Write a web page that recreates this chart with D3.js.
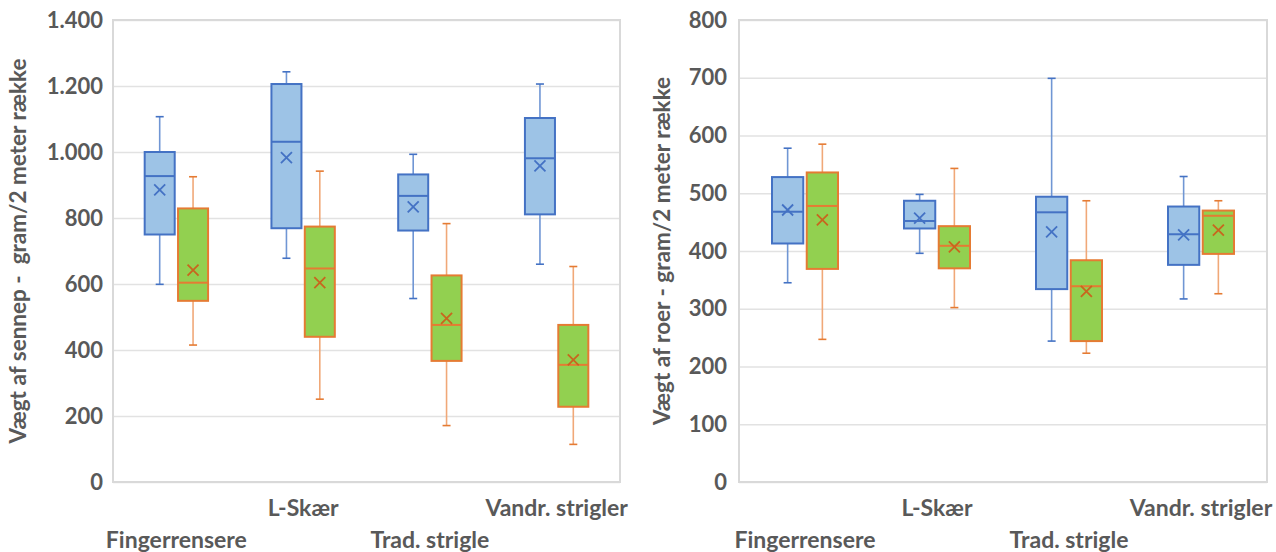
<!DOCTYPE html>
<html>
<head>
<meta charset="utf-8">
<script src="https://cdn.jsdelivr.net/npm/d3@7"></script>
<style>
  body { margin: 0; background: #fff; }
  text { font-family: Lato, "Open Sans", sans-serif; font-weight: bold; fill: #595959; }
</style>
</head>
<body>
<svg id="chart" width="1276" height="552"></svg>
<script>
var categories = ["Fingerrensere", "L-Skær", "Trad. strigle", "Vandr. strigler"];
var seriesNames = ["blaa", "groen"];

// each row: [min, q1, median, q3, max, mean]
var sennepBlaa = [[599, 750, 927, 1000, 1107, 885], [678, 769, 1031, 1206, 1243, 983], [556, 762, 867, 932, 993, 834], [660, 811, 981, 1103, 1206, 958]];
var sennepGroen = [[415, 549, 604, 829, 925, 642], [251, 440, 647, 774, 942, 604], [171, 367, 476, 626, 783, 496], [114, 228, 355, 476, 653, 370]];
var roerBlaa = [[345, 413, 468, 528, 578, 471], [396, 439, 452, 487, 498, 457], [244, 334, 467, 494, 699, 433], [317, 376, 429, 477, 529, 428]];
var roerGroen = [[247, 369, 478, 536, 585, 454], [302, 370, 409, 443, 543, 407], [223, 244, 339, 384, 487, 330], [326, 395, 461, 470, 487, 436]];

var sennepTicks = [0, 200, 400, 600, 800, 1000, 1200, 1400];
var roerTicks = [0, 100, 200, 300, 400, 500, 600, 700, 800];

var colors = {
    blaa: { fill: "#9dc3e6", stroke: "#4472c4", whisker: "#7096d4", mean: "#4472c4" },
    groen: { fill: "#92d050", stroke: "#e57b33", whisker: "#f0a878", mean: "#c8661e" }
};

var dk = d3.formatLocale({ decimal: ",", thousands: ".", grouping: [3], currency: ["", " kr."] });
var fmt = dk.format(",d");

var svg = d3.select("#chart");

function drawChart(o) {
    var g = svg.append("g");
    var y = d3.scaleLinear().domain([0, o.max]).range([o.bottom, o.top]);
    var x0 = d3.scaleBand().domain(categories).range([o.left, o.right]);
    var bw = x0.bandwidth();
    var groupW = bw * 0.5;
    var x1 = d3.scaleBand().domain(seriesNames).range([(bw - groupW) / 2, (bw + groupW) / 2]).paddingInner(0.1);

    // gridlines + tick labels
    var ya = g.append("g")
        .attr("transform", "translate(" + o.left + ",0)")
        .call(d3.axisLeft(y).tickValues(o.ticks).tickFormat(fmt).tickSize(-(o.right - o.left)).tickPadding(o.pad));
    ya.select(".domain").remove();
    ya.selectAll(".tick line").attr("stroke", "#e2e2e2").attr("stroke-width", 1.5);
    ya.selectAll(".tick text").style("font-size", "22px").attr("fill", "#595959");

    // frame
    g.append("rect")
        .attr("x", o.left).attr("y", o.top)
        .attr("width", o.right - o.left).attr("height", o.bottom - o.top)
        .attr("fill", "none").attr("stroke", "#d9d9d9").attr("stroke-width", 2);

    // x labels, staggered on two rows
    var xa = g.append("g")
        .attr("transform", "translate(0," + o.bottom + ")")
        .call(d3.axisBottom(x0).tickSize(0));
    xa.select(".domain").remove();
    xa.selectAll(".tick text")
        .style("font-size", "23px")
        .attr("fill", "#595959")
        .attr("dy", 0)
        .attr("y", function (d, i) { return i % 2 == 0 ? 66 : 34; });

    // boxes
    o.data.forEach(function (rows, si) {
        var s = seriesNames[si];
        var c = colors[s];
        var sg = g.append("g");
        var box = sg.selectAll("g.box").data(rows).enter().append("g")
            .attr("class", "box")
            .attr("transform", function (d, i) { return "translate(" + (x0(categories[i]) + x1(s)) + ",0)"; });
        var w = x1.bandwidth();
        var cx = w / 2;

        // whiskers
        box.append("line").attr("x1", cx).attr("x2", cx)
            .attr("y1", function (d) { return y(d[0]); }).attr("y2", function (d) { return y(d[1]); })
            .attr("stroke", c.whisker).attr("stroke-width", 1.6);
        box.append("line").attr("x1", cx).attr("x2", cx)
            .attr("y1", function (d) { return y(d[3]); }).attr("y2", function (d) { return y(d[4]); })
            .attr("stroke", c.whisker).attr("stroke-width", 1.6);
        box.append("line").attr("x1", cx - 4).attr("x2", cx + 4)
            .attr("y1", function (d) { return y(d[0]); }).attr("y2", function (d) { return y(d[0]); })
            .attr("stroke", c.stroke).attr("stroke-width", 1.6);
        box.append("line").attr("x1", cx - 4).attr("x2", cx + 4)
            .attr("y1", function (d) { return y(d[4]); }).attr("y2", function (d) { return y(d[4]); })
            .attr("stroke", c.stroke).attr("stroke-width", 1.6);

        // box
        box.append("rect")
            .attr("x", 0).attr("width", w)
            .attr("y", function (d) { return y(d[3]); })
            .attr("height", function (d) { return y(d[1]) - y(d[3]); })
            .attr("fill", c.fill).attr("stroke", c.stroke).attr("stroke-width", 2);

        // median
        box.append("line").attr("x1", 0).attr("x2", w)
            .attr("y1", function (d) { return y(d[2]); }).attr("y2", function (d) { return y(d[2]); })
            .attr("stroke", c.stroke).attr("stroke-width", 2);

        // mean marker (x)
        box.append("path")
            .attr("d", function (d) {
                var my = y(d[5]), r = 5.5;
                return "M" + (cx - r) + "," + (my - r) + "L" + (cx + r) + "," + (my + r) +
                    "M" + (cx - r) + "," + (my + r) + "L" + (cx + r) + "," + (my - r);
            })
            .attr("stroke", c.mean).attr("stroke-width", 1.8).attr("fill", "none");
    });

    // y title
    g.append("text")
        .attr("transform", "translate(" + o.titleX + "," + ((o.top + o.bottom) / 2) + ") rotate(-90)")
        .attr("text-anchor", "middle")
        .attr("dy", "0.35em")
        .style("font-size", "22.5px")
        .style("white-space", "pre")
        .text(o.title);
}

drawChart({
    left: 113, right: 620, top: 20, bottom: 482, pad: 10,
    max: 1400, ticks: sennepTicks,
    title: "Vægt af sennep -  gram/2 meter række", titleX: 18,
    data: [sennepBlaa, sennepGroen]
});

drawChart({
    left: 739, right: 1267, top: 20, bottom: 482, pad: 12,
    max: 800, ticks: roerTicks,
    title: "Vægt af roer - gram/2 meter række", titleX: 662,
    data: [roerBlaa, roerGroen]
});
</script>
</body>
</html>
